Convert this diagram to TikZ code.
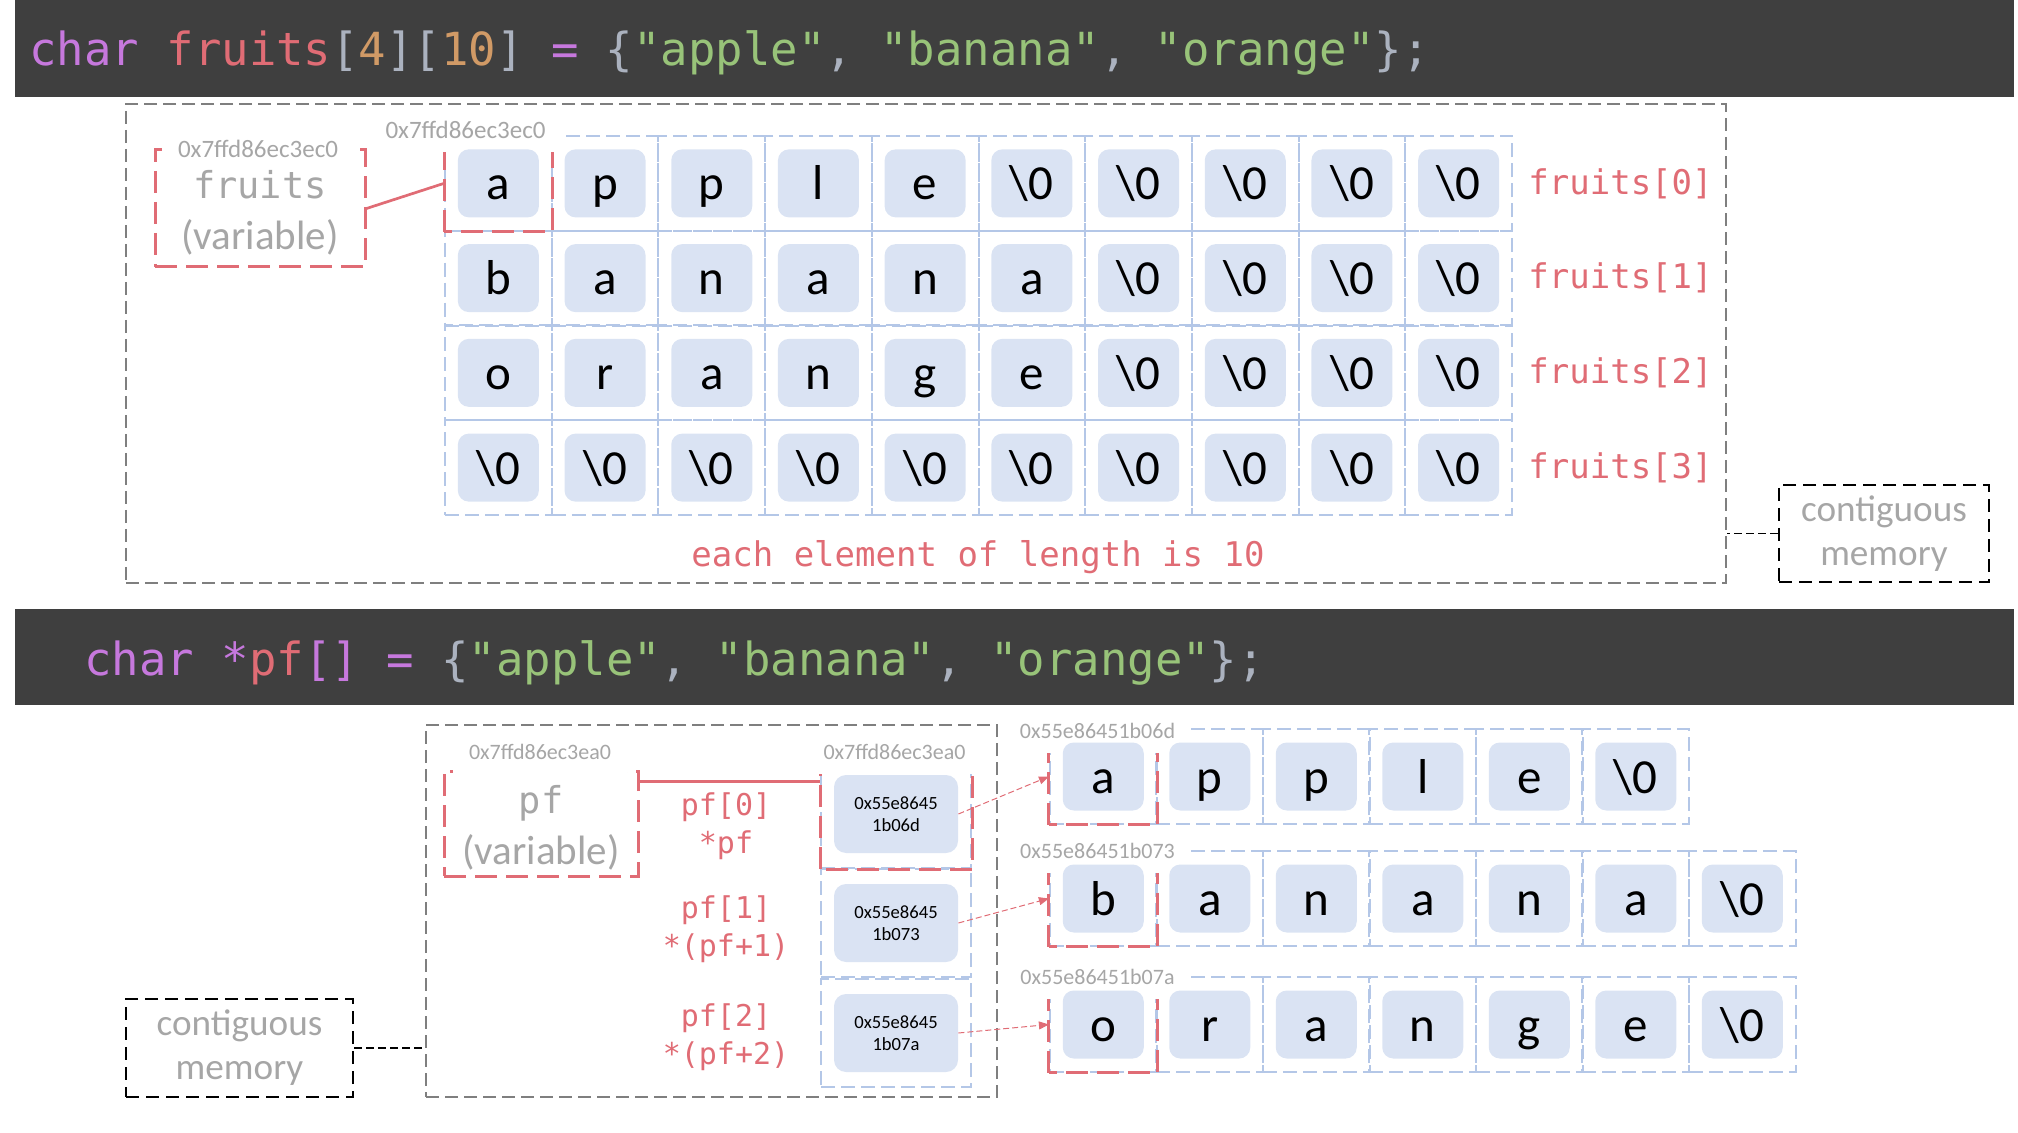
\documentclass[tikz,border=0pt]{standalone}
\usepackage{fontspec}
\setmainfont{Carlito}
\setmonofont{DejaVu Sans Mono}
\usepackage{xcolor}
\definecolor{codeBg}{HTML}{3F3F3F}
\definecolor{codeKey}{HTML}{C678DD}
\definecolor{codeVar}{HTML}{E06C75}
\definecolor{codeNum}{HTML}{D19A66}
\definecolor{codeStr}{HTML}{98C379}
\definecolor{codePun}{HTML}{ABB2BF}
\definecolor{memRed}{HTML}{E06C75}
\definecolor{memBlue}{HTML}{B4C7E7}
\definecolor{memFill}{HTML}{DAE3F3}
\definecolor{memGray}{HTML}{A6A6A6}
\definecolor{areaGray}{HTML}{7F7F7F}
\usepackage{tikz}
\usetikzlibrary{arrows.meta,positioning}

\newcommand{\nulch}{\textbackslash 0}
\newcommand{\tok}[2]{\textcolor{#1}{#2}}

\tikzset{
  codeline/.style={anchor=base west, inner sep=0pt, font=\ttfamily\fontsize{22.8}{24}\selectfont},
  memarea/.style={draw=areaGray, line width=1pt, dash pattern=on 6.5pt off 3pt, inner sep=0pt},
  memcell/.style={draw=memBlue, line width=1pt, dash pattern=on 7pt off 3pt, inner sep=0pt, minimum width=53.35pt, minimum height=47.4pt},
  ptrcell/.style={memcell, minimum width=75pt, minimum height=54pt},
  chbox/.style={fill=memFill, rounded corners=5.5pt, inner sep=0pt, minimum width=40.5pt, minimum height=34pt, text height=21.5pt, text depth=5pt, font=\fontsize{24.5}{24.5}\selectfont},
  ptrbox/.style={fill=memFill, rounded corners=6pt, inner sep=0pt, minimum width=62pt, minimum height=39pt, align=center, font=\fontsize{9.3}{11}\selectfont},
  redmark/.style={draw=memRed, line width=1.5pt, dash pattern=on 11pt off 4.5pt},
  varbox/.style={redmark, inner sep=0pt},
  vartext/.style={text=memGray, align=center, inner sep=0pt, yshift=-2pt, font=\fontsize{20.5}{25.3}\selectfont},
  addr/.style={fill=white, text=memGray, inner xsep=8pt, inner ysep=0pt, minimum height=22pt, font=\fontsize{12.5}{12.5}\selectfont},
  memlbl/.style={text=memRed, inner sep=0pt, font=\ttfamily\fontsize{17}{19}\selectfont},
  idxlbl/.style={memlbl, align=center, font=\ttfamily\fontsize{15}{19}\selectfont},
  link/.style={draw=memRed, line width=1.35pt},
  ptrarrow/.style={draw=memRed, line width=0.5pt, dash pattern=on 3pt off 1.5pt, -{Triangle[length=5pt,width=4pt]}},
  contig/.style={draw=black, line width=1.2pt, dash pattern=on 6.5pt off 3.5pt, text=memGray, align=center, inner sep=0pt, font=\fontsize{18.6}{22}\selectfont},
  contiglink/.style={draw=black, line width=0.6pt, dash pattern=on 4pt off 2pt},
}

\begin{document}
\begin{tikzpicture}[x=0.5pt, y=-0.5pt]
  \useasboundingbox (0,0) rectangle (2018,1133);
  % code bars
  \fill[codeBg] (15,0) rectangle (2014,97);
  \node[codeline] (code-arr) at (29,66) {\tok{codeKey}{char} \tok{codeVar}{fruits}\tok{codePun}{[}\tok{codeNum}{4}\tok{codePun}{][}\tok{codeNum}{10}\tok{codePun}{]} \tok{codeKey}{=} \tok{codePun}{\{}\tok{codeStr}{"apple"}\tok{codePun}{,} \tok{codeStr}{"banana"}\tok{codePun}{,} \tok{codeStr}{"orange"}\tok{codePun}{\};}};
  \fill[codeBg] (15,609) rectangle (2014,705);
  \node[codeline] (code-ptr) at (84,675) {\tok{codeKey}{char} \tok{codeKey}{*}\tok{codeVar}{pf}\tok{codeKey}{[]} \tok{codeKey}{=} \tok{codePun}{\{}\tok{codeStr}{"apple"}\tok{codePun}{,} \tok{codeStr}{"banana"}\tok{codePun}{,} \tok{codeStr}{"orange"}\tok{codePun}{\};}};

  % memory areas
  \node[memarea, minimum width=800pt, minimum height=239.5pt] (memtop) at (926,343.5) {};
  \node[memarea, minimum width=285.5pt, minimum height=186pt] (membot) at (711.5,911) {};

  % variables
  \node[varbox, minimum width=105pt, minimum height=58.5pt] (fv) at (260,208.5) {};
  \node[varbox, minimum width=97pt, minimum height=52.5pt] (pv) at (541,823.5) {};

  % cells
  \foreach \r in {0,...,3}
    \foreach \c in {0,...,9}
      \node[memcell] (g-\r-\c) at ({445+106.7*(\c+0.5)}, {136+94.75*(\r+0.5)}) {};
  \foreach \r/\y/\n in {a/776.5/5, b/898.5/6, o/1024.5/6}
    \foreach \c in {0,...,\n}
      \node[memcell] (s\r-\c) at ({1050+106.5*(\c+0.5)}, \y) {};
  \foreach \r/\y in {0/814, 1/923, 2/1033}
    \node[ptrcell] (pc-\r) at (896,\y) {};

  % first element marks
  \foreach \n in {g-0-0, sa-0, sb-0, so-0, pc-0}
    \draw[redmark] (\n.south west) rectangle (\n.north east);

  % addresses
  \node[addr] (a-fv) at (258,149) {0x7ffd86ec3ec0};
  \node[addr] (a-g) at (465.5,130) {0x7ffd86ec3ec0};
  \node[addr, font=\fontsize{11}{11}\selectfont] (a-pv) at (540,752) {0x7ffd86ec3ea0};
  \node[addr, font=\fontsize{11}{11}\selectfont] (a-pc) at (894.5,752) {0x7ffd86ec3ea0};
  \foreach \r/\y/\adr in {a/731/0x55e86451b06d, b/851/0x55e86451b073, o/977/0x55e86451b07a}
    \node[addr, font=\fontsize{11}{11}\selectfont] (a-s\r) at (1097.5,\y) {\adr};

  % variable texts
  \node[vartext] (fv-t) at (fv) {{\ttfamily\fontsize{18.5}{24}\selectfont fruits}\\(variable)};
  \node[vartext] (pv-t) at (pv) {{\ttfamily\fontsize{18.5}{24}\selectfont pf}\\(variable)};

  % characters
  \foreach \r/\chars in {%
    0/{a,p,p,l,e,\nulch,\nulch,\nulch,\nulch,\nulch},
    1/{b,a,n,a,n,a,\nulch,\nulch,\nulch,\nulch},
    2/{o,r,a,n,g,e,\nulch,\nulch,\nulch,\nulch},
    3/{\nulch,\nulch,\nulch,\nulch,\nulch,\nulch,\nulch,\nulch,\nulch,\nulch}}
    \foreach \ch [count=\c from 0] in \chars
      \node[chbox] (gc-\r-\c) at (g-\r-\c) {\ch};
  \foreach \r/\chars in {a/{a,p,p,l,e,\nulch}, b/{b,a,n,a,n,a,\nulch}, o/{o,r,a,n,g,e,\nulch}}
    \foreach \ch [count=\c from 0] in \chars
      \node[chbox] (sc\r-\c) at (s\r-\c) {\ch};

  % pointers
  \foreach \r/\lo in {0/1b06d, 1/1b073, 2/1b07a}
    \node[ptrbox] (p\r) at (pc-\r) {0x55e8645\\\lo};
  \foreach \r/\s in {0/a, 1/b, 2/o}
    \draw[ptrarrow] (p\r.east) -- (s\s-0.west);

  % labels
  \foreach \r in {0,...,3}
    \node[memlbl, right=7.5pt of g-\r-9] (rl-\r) {fruits[\r]};
  \node[memlbl] (len) at (978,557) {each element of length is 10};
  \foreach \r/\y/\alt in {0/826/*pf, 1/929/*(pf+1), 2/1037/*(pf+2)}
    \node[idxlbl] (ix-\r) at (726,\y) {pf[\r]\\\alt};

  % links
  \draw[link] (fv.east) -- (g-0-0.west);
  \coordinate (pvjoin) at ([yshift=-6pt]pv.north east);
  \draw[link] (pvjoin) -- (pvjoin -| pc-0.west);

  % contiguous memory
  \node[contig, minimum width=105pt, minimum height=48.5pt] (ct-top) at (1884,533.5) {contiguous\\memory};
  \node[contig, minimum width=113.5pt, minimum height=49pt] (ct-bot) at (239.5,1048) {contiguous\\memory};
  \draw[contiglink] (ct-top.west) -- (ct-top.west -| memtop.east);
  \draw[contiglink] (ct-bot.east) -- (ct-bot.east -| membot.west);
\end{tikzpicture}
\end{document}
